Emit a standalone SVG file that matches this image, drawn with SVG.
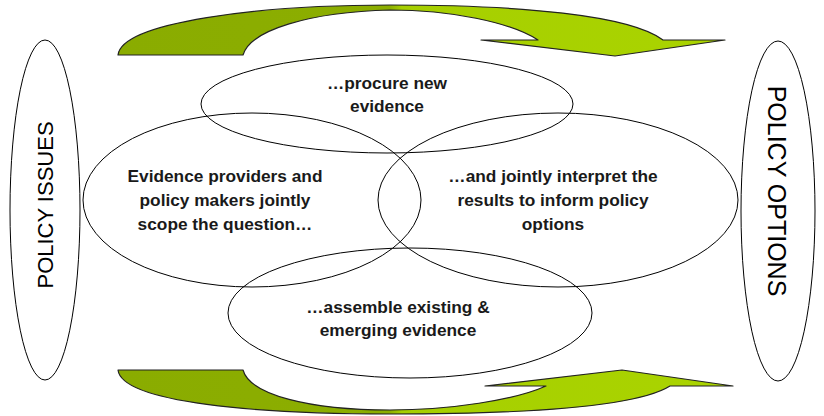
<svg xmlns="http://www.w3.org/2000/svg" width="824" height="416" viewBox="0 0 824 416">
<defs>
<linearGradient id="g" gradientUnits="userSpaceOnUse" x1="118" y1="0" x2="735" y2="0">
<stop offset="0" stop-color="#8aac00"/>
<stop offset="0.44" stop-color="#8cae00"/>
<stop offset="0.46" stop-color="#a6cf00"/>
<stop offset="1" stop-color="#aad400"/>
</linearGradient>
<style>
.ell{fill:none;stroke:#000;stroke-width:1}
.arr{fill:url(#g);stroke:#222;stroke-width:1.2;stroke-linejoin:round}
.t{font-family:"Liberation Sans",Arial,sans-serif;font-weight:bold;font-size:17.3px;fill:#1a1a1a;text-anchor:middle}
.side{font-family:"Liberation Sans",Arial,sans-serif;font-size:22px;fill:#000;text-anchor:middle}
</style>
</defs>
<g id="connectors">
<path class="arr" d="M118,55 C122,22 260,5 390,5 C520,5 630,15 663,40 L725,40 L615,56 L481,40 L538,40 C510,22 450,10 390,10 C310,12 250,30 243,55 Z"/>
<path class="arr" d="M118,370 C122,403 260,414 390,414 C520,414 635,408 670,386 L733,386 L622,370 L485,386 L546,386 C515,400 450,410 390,410 C310,410 250,395 243,370 Z"/>
</g>
<g id="policy-issues">
<ellipse class="ell" cx="45" cy="210" rx="35" ry="170"/>
<text class="side" transform="translate(53,205) rotate(-90)">POLICY ISSUES</text>
</g>
<g id="policy-options">
<ellipse class="ell" cx="778" cy="211" rx="37" ry="170"/>
<text class="side" style="font-size:25px" transform="translate(768,191) rotate(90)">POLICY OPTIONS</text>
</g>
<g id="procure">
<ellipse class="ell" cx="387" cy="104" rx="186" ry="49"/>
<text class="t" x="387" y="89">…procure new</text>
<text class="t" x="387" y="112">evidence</text>
</g>
<g id="scope">
<ellipse class="ell" cx="252" cy="200" rx="169" ry="87"/>
<text class="t" x="225" y="182">Evidence providers and</text>
<text class="t" x="225" y="206">policy makers jointly</text>
<text class="t" x="225" y="230">scope the question…</text>
</g>
<g id="interpret">
<ellipse class="ell" cx="558" cy="200" rx="180" ry="87"/>
<text class="t" x="553" y="182">…and jointly interpret the</text>
<text class="t" x="553" y="206">results to inform policy</text>
<text class="t" x="553" y="230">options</text>
</g>
<g id="assemble">
<ellipse class="ell" cx="410" cy="313" rx="182" ry="65"/>
<text class="t" x="398" y="313">…assemble existing &amp;</text>
<text class="t" x="398" y="336">emerging evidence</text>
</g>
</svg>
